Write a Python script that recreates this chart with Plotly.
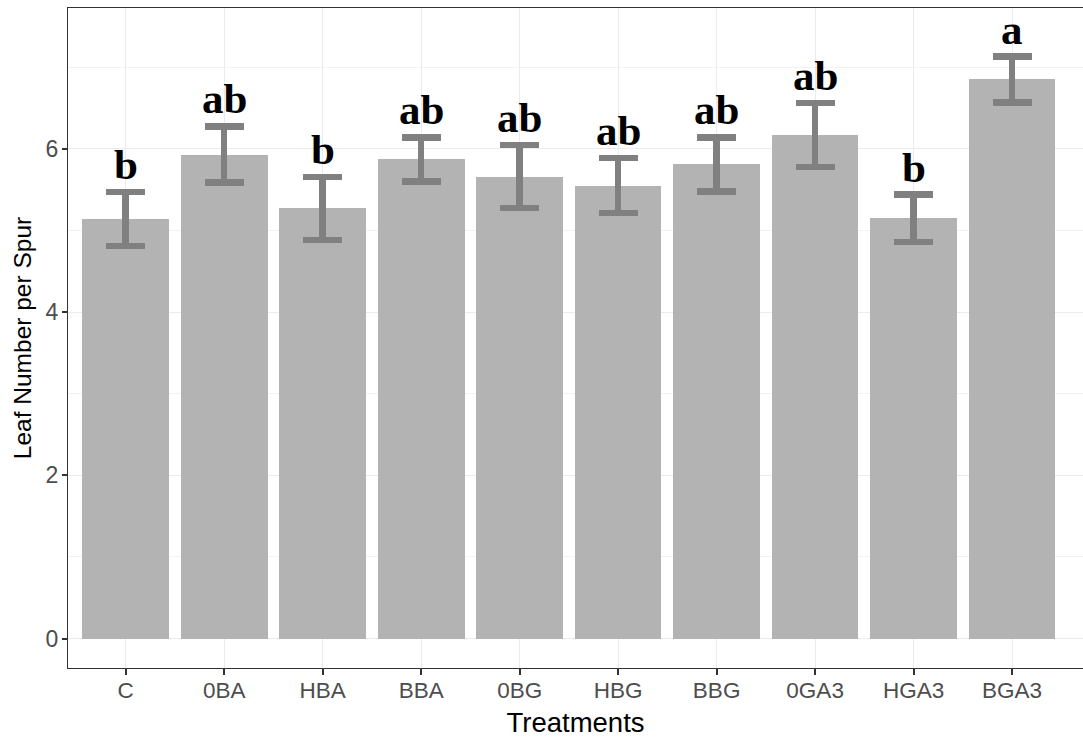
import plotly.graph_objects as go

treatments = ["C", "0BA", "HBA", "BBA", "0BG", "HBG", "BBG", "0GA3", "HGA3", "BGA3"]
means = [5.14, 5.93, 5.27, 5.87, 5.66, 5.55, 5.81, 6.17, 5.15, 6.85]
errors = [0.33, 0.345, 0.385, 0.27, 0.385, 0.335, 0.33, 0.39, 0.29, 0.28]
letters = ["b", "ab", "b", "ab", "ab", "ab", "ab", "ab", "b", "a"]

fig = go.Figure()
fig.add_trace(go.Bar(
    x=treatments, y=means, width=0.88,
    marker=dict(color="#B3B3B3", line=dict(width=0)),
    error_y=dict(type="data", array=errors, visible=True,
                 color="#808080", thickness=6.5, width=19.5),
    showlegend=False,
))

for t, m, e, lab in zip(treatments, means, errors, letters):
    fig.add_annotation(x=t, y=m + e, text=lab, showarrow=False,
                       yanchor="bottom", yshift=2,
                       font=dict(family="Liberation Serif", size=43, color="black", weight="bold"))

fig.update_layout(
    width=1083, height=738,
    margin=dict(l=68, r=0, t=8, b=70),
    paper_bgcolor="white", plot_bgcolor="white",
    font=dict(family="Liberation Sans, Arial, sans-serif"),
    bargap=0,
)
fig.update_xaxes(
    range=[-0.586, 9.72],
    showline=True, linecolor="#333333", linewidth=1.3, mirror=True,
    ticks="outside", ticklen=6, tickwidth=1.6, tickcolor="#333333",
    tickfont=dict(size=22.5, color="#4D4D4D"), ticklabelstandoff=-4,
    showgrid=True, gridcolor="#EBEBEB", gridwidth=1.1,
    title=dict(text="Treatments", font=dict(size=27.5, color="black"), standoff=10),
)
fig.update_yaxes(
    range=[-0.36, 7.725],
    tick0=0, dtick=2,
    showline=True, linecolor="#333333", linewidth=1.3, mirror=False,
    ticks="outside", ticklen=5, tickwidth=1.6, tickcolor="#333333",
    tickfont=dict(size=23, color="#4D4D4D"), ticklabelstandoff=-1,
    showgrid=True, gridcolor="#EBEBEB", gridwidth=1.1, zeroline=False,
    minor=dict(dtick=1, tick0=0, showgrid=True, gridcolor="#F2F2F2", gridwidth=0.6, ticks=""),
    title=dict(text="Leaf Number per Spur", font=dict(size=24.5, color="black"), standoff=6),
)

fig.write_html("out.html")
